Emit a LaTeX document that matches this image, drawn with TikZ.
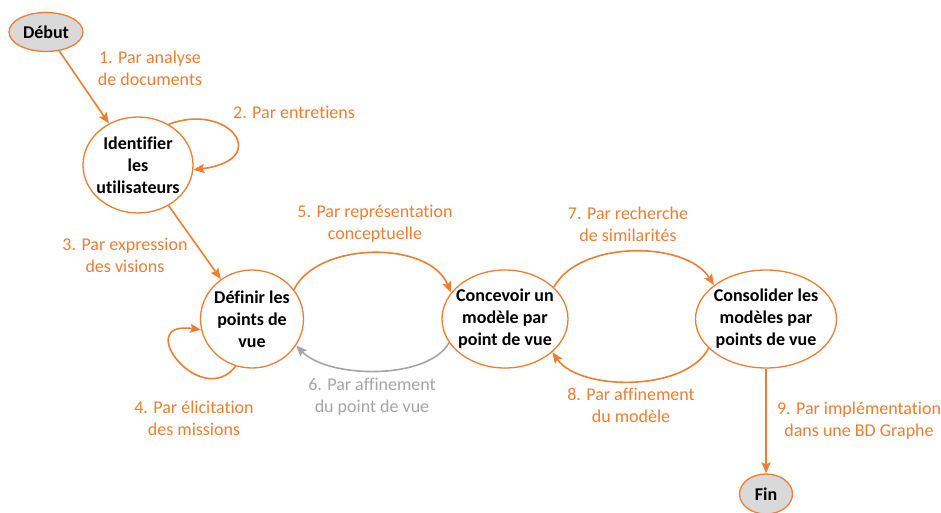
\documentclass[tikz,border=0pt]{standalone}
\usepackage{fontspec}
\setmainfont{Carlito}[Ligatures=NoCommon]
\usetikzlibrary{shapes.geometric,arrows.meta}
\definecolor{orng}{HTML}{ED7D31}
\definecolor{gline}{HTML}{A5A5A5}
\definecolor{gfill}{HTML}{D9D9D9}
\begin{document}
\begin{tikzpicture}[x=1pt,y=-1pt,
  stxt/.style={align=center,inner sep=0pt,font=\fontsize{18}{22}\selectfont\bfseries},
  state/.style={ellipse,draw=orng,line width=1.3pt,fill=white,inner sep=0pt,
    label={[stxt]center:#1}},
  term/.style={state=#1,fill=gfill},
  lbl/.style={text=orng,align=center,font=\fontsize{18}{22}\selectfont,inner sep=0pt},
  glbl/.style={lbl,text=gline},
  arr/.style={draw=orng,line width=1.6pt,-{Stealth[length=11pt,width=9pt,inset=2pt]}},
  garr/.style={arr,draw=gline,-{Stealth[length=11pt,width=9pt,inset=2pt,fill=gline]}}
]
\useasboundingbox (0,0) rectangle (941,513);
\node[term={Début},minimum width=74pt,minimum height=39pt] (debut) at (46,32) {};
\node[state={Identifier\\les\\utilisateurs},minimum width=110pt,minimum height=96pt] (ident) at (138,165) {};
\node[state={Définir les\\points de\\vue},minimum width=103pt,minimum height=98pt] (def) at (252,319) {};
\node[state={Concevoir un\\modèle par\\point de vue},minimum width=126pt,minimum height=98pt] (conc) at (505,319) {};
\node[state={Consolider les\\modèles par\\points de vue},minimum width=141pt,minimum height=98pt] (cons) at (766,319) {};
\node[term={Fin},minimum width=53pt,minimum height=40pt] (fin) at (766,494) {};

\draw[arr] (debut.-55) -- (ident.125);
\draw[arr] (ident.53) .. controls +(60,-23) and +(80,-10) .. (ident.-5);
\draw[arr] (ident.-53) -- (def.128);
\draw[arr] (def.-109) .. controls +(-35,45) and +(-70,-10) .. (def.192);
\draw[arr] (def.35) .. controls +(23,-48) and +(-22,-53) .. (conc.154);
\draw[garr] (conc.203) .. controls +(-22,38) and +(32,33) .. (def.-31);
\draw[arr] (conc.33) .. controls +(25,-47) and +(-28,-45) .. (cons.147);
\draw[arr] (cons.207) .. controls +(-23,44) and +(27,39) .. (conc.-35);
\draw[arr] (cons) -- (fin);

\node[lbl] (l1) at (150,68.5) {1. Par analyse\\de documents};
\node[lbl] (l2) at (294,112) {2. Par entretiens};
\node[lbl] (l3) at (125,255) {3. Par expression\\des visions};
\node[lbl] (l4) at (194,418.5) {4. Par élicitation\\des missions};
\node[lbl] (l5) at (375,224) {5. Par représentation\\conceptuelle};
\node[glbl] (l6) at (372,397) {6. Par affinement\\du point de vue};
\node[lbl] (l7) at (628,224) {7. Par recherche\\de similarités};
\node[lbl] (l8) at (631,405) {8. Par affinement\\du modèle};
\node[lbl] (l9) at (859,421) {9. Par implémentation\\dans une BD Graphe};
\end{tikzpicture}
\end{document}
